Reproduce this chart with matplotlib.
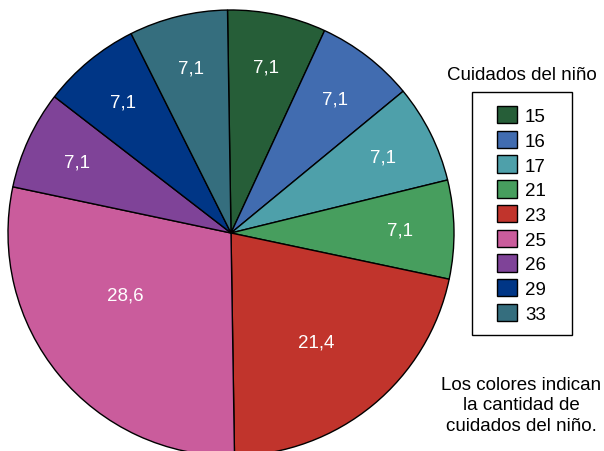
import numpy as np
import matplotlib.pyplot as plt
from matplotlib.patches import Rectangle

plt.rcParams['font.family'] = ['Liberation Sans', 'DejaVu Sans']

# cuidados del niño -> number of children (14 total)
categorias = ['15', '16', '17', '21', '23', '25', '26', '29', '33']
conteos = [1, 1, 1, 1, 3, 4, 1, 1, 1]
colores = ['#265E38', '#416CB0', '#4EA0AA', '#479E5E', '#C1342C',
           '#CA5C9C', '#7F4398', '#003686', '#356E7E']

fig = plt.figure(figsize=(6.04, 4.52), dpi=100)

# pie centered at (231, 234) px with radius 223 px
ax = fig.add_axes([8 / 604, (218 - 223) / 452, 446 / 604, 446 / 452])
wedges, textos, pcts = ax.pie(
    conteos, colors=colores, startangle=90.9, counterclock=False,
    autopct=lambda p: f'{p:.1f}'.replace('.', ','), pctdistance=0.76,
    wedgeprops=dict(edgecolor='black', linewidth=1.0),
    textprops=dict(color='white', fontsize=13.5))
# the two large slices have their labels nearer the centre
for t, c in zip(pcts, conteos):
    if c > 1:
        x, y = t.get_position()
        ang = np.arctan2(y, x)
        if c == 4:
            r, ang = 0.55, ang - np.radians(9)
        else:
            r, ang = 0.62, ang - np.radians(1.5)
        t.set_position((r * np.cos(ang), r * np.sin(ang)))
ax.set_xlim(-1, 1)
ax.set_ylim(-1, 1)
ax.set_aspect('equal')
ax.axis('off')

# legend
fig.text(522 / 604, 1 - 75 / 452, 'Cuidados del niño', ha='center', va='center', fontsize=13.5)
leg = fig.legend(wedges, categorias, loc='upper left',
                 bbox_to_anchor=(482 / 604, 1 - 92 / 452), frameon=False,
                 fontsize=13.5, handlelength=1.05, handleheight=1.05,
                 labelspacing=0.3, handletextpad=0.45, borderpad=0.3)
fig.patches.append(Rectangle((472 / 604, 1 - 336 / 452), 100 / 604, 243 / 452,
                             transform=fig.transFigure, fill=False,
                             edgecolor='black', linewidth=1.0))

fig.text(521 / 604, 1 - 406 / 452,
         'Los colores indican\nla cantidad de\ncuidados del niño.',
         ha='center', va='center', fontsize=13.5, linespacing=1.3)

fig.savefig('out.png', dpi=100)
